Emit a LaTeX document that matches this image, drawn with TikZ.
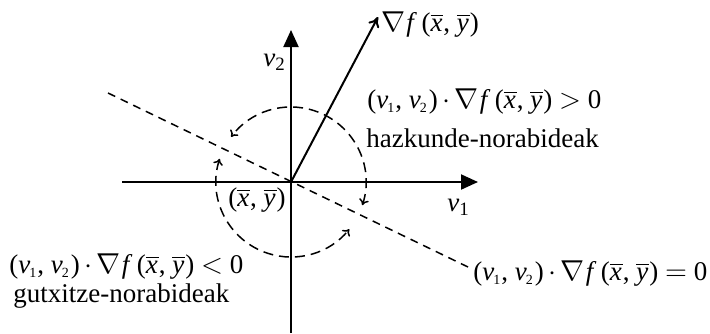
\documentclass[tikz,border=0pt]{standalone}
\usepackage{fontspec}
\setmainfont{Liberation Serif}
\usetikzlibrary{arrows.meta}
\newcommand{\iv}{\textit{v}}
\newcommand{\ovx}{$\overline{\mbox{\textit{x}}\kern0.5pt}$}
\newcommand{\ovy}{$\overline{\mbox{\textit{y}}\kern0.5pt}$}
\newcommand{\pxy}{(\ovx,\ \ovy)}
\newcommand{\grd}{$\nabla$\kern0.5pt\textit{f}\,\pxy}
\newcommand{\vpair}{(\iv\kern-0.5pt\textsubscript{\scriptsize 1}, \iv\kern-0.5pt\textsubscript{\scriptsize 2}\kern0.5pt)\,$\cdot$\,\grd}
\begin{document}
\begin{tikzpicture}[x=0.5pt,y=0.5pt,
  lbl/.style={inner sep=0pt, font=\fontsize{13.5}{16}\selectfont},
  axis/.style={line width=1pt, -{Triangle[length=8.5pt,width=7.5pt]}},
  zeroline/.style={line width=0.75pt, dash pattern=on 4pt off 3pt},
  turn/.style={line width=0.75pt, dash pattern=on 5pt off 3pt, {To[length=3pt,width=5pt]}-{To[length=3pt,width=5pt]}},
  gradarrow/.style={line width=1pt, -{To[length=5pt,width=6pt]}}]
\useasboundingbox (0,0) rectangle (710,333);
\coordinate (O) at (291,151);
\coordinate (xl) at (122,151);
\coordinate (xr) at (478,151);
\coordinate (yb) at (291,0);
\coordinate (yt) at (291,303);
\coordinate (g) at (378,316);
\coordinate (dl) at (108,240);
\coordinate (dr) at (468,66);
% axes
\draw[axis] (xl) -- (xr);
\draw[axis] (yb) -- (yt);
% zero line
\draw[zeroline] (dl) -- (dr);
% gradient
\draw[gradarrow] (O) -- (g);
% arcs
\draw[turn] ([shift={(-18:37.5pt)}]O) arc[start angle=-18, end angle=143, radius=37.5pt];
\draw[turn] ([shift={(162:37.5pt)}]O) arc[start angle=162, end angle=321, radius=37.5pt];
% labels
\node[lbl, anchor=base west] (lv2) at (263,267) {\iv\textsubscript{2}};
\node[lbl, anchor=base west] (lv1) at (447,122) {\iv\textsubscript{1}};
\node[lbl, anchor=base] (lxy) at (257,127) {\pxy};
\node[lbl, anchor=base west] (lgrad) at (381,302) {\grd};
\node[lbl, anchor=base west] (lpos) at (367,225) {\vpair\ $>$ 0};
\node[lbl, anchor=base west] (lhaz) at (366,186) {hazkunde-norabideak};
\node[lbl, anchor=base west] (lneg) at (9,60) {\vpair\ $<$ 0};
\node[lbl, anchor=base west] (lgut) at (13,31) {gutxitze-norabideak};
\node[lbl, anchor=base west] (lzero) at (473,53) {\vpair\ $=$ 0};
\end{tikzpicture}
\end{document}
